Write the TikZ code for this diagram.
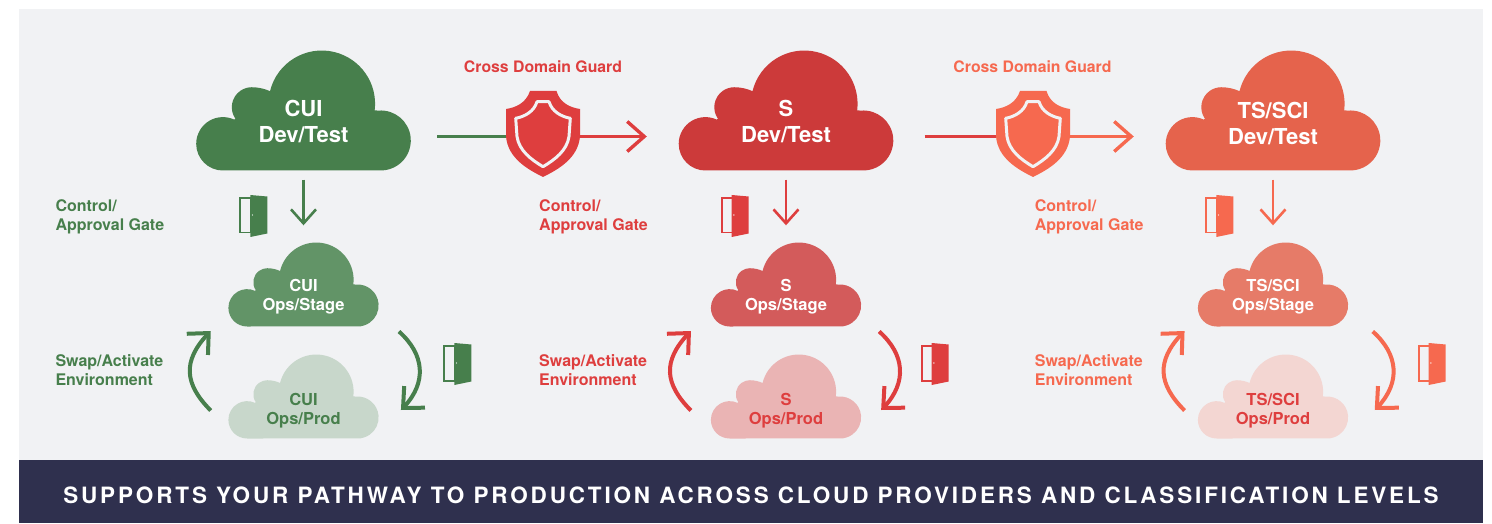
\documentclass[tikz,border=0pt]{standalone}
\usepackage{fontspec}
\setmainfont{TeX Gyre Heros}
\newfontfamily\bannerfont[LetterSpace=12.6]{TeX Gyre Heros}
\usetikzlibrary {arrows.meta}
\usetikzlibrary {bending}

\definecolor{panelbg}{HTML}{F1F2F4}
\definecolor{bannerbg}{HTML}{2F304E}
\definecolor{cuimain}{HTML}{477F4C}
\definecolor{cuidevc}{HTML}{477F4C}
\definecolor{cuistagec}{HTML}{629467}
\definecolor{cuiprodc}{HTML}{C8D7CB}
\definecolor{cuiprodtext}{HTML}{477F4C}
\definecolor{smain}{HTML}{DE3E3E}
\definecolor{sdevc}{HTML}{CC3A3A}
\definecolor{sstagec}{HTML}{D35B5B}
\definecolor{sprodc}{HTML}{EAB4B4}
\definecolor{sprodtext}{HTML}{DE3E3E}
\definecolor{tsmain}{HTML}{F6694F}
\definecolor{tsdevc}{HTML}{E5634C}
\definecolor{tsstagec}{HTML}{E67B68}
\definecolor{tsprodc}{HTML}{F3D6D2}
\definecolor{tsprodtext}{HTML}{DE3E3E}

\tikzset{
    bigbox/.style={minimum width=215pt, minimum height=120pt, inner sep=0},
    smallbox/.style={minimum width=150.5pt, minimum height=84pt, inner sep=0},
    bigtext/.style={align=center, inner sep=0, font=\fontsize{22}{26}\selectfont\bfseries},
    smalltext/.style={align=center, inner sep=0, font=\fontsize{16.5}{19}\selectfont\bfseries},
    sidelabel/.style={anchor=west, align=left, inner sep=0, font=\fontsize{16}{19}\selectfont\bfseries},
    guardlabel/.style={inner sep=0, font=\fontsize{15.8}{19}\selectfont\bfseries},
    downarrow/.style={line width=2.6pt, shorten <=9pt, shorten >=17pt, -{Straight Barb[length=14pt, width=25pt]}},
    guardline/.style={line width=3.4pt},
    guardarrow/.style={line width=3.4pt, -{Straight Barb[length=17pt, width=30pt]}},
    swaparrow/.style={line width=4pt, -{Straight Barb[length=16pt, width=30pt, flex=0]}},
    pics/cloudshape/.style={code={
        \fill[#1] (-80.6,-60) arc[start angle=270, end angle=65, radius=26.7]
            -- (-68.1,-8.2) arc[start angle=215, end angle=90, radius=20]
            .. controls (-45,23.3) and (-38,21.5) .. (-33.5,19.3)
            arc[start angle=166.3, end angle=-7, radius=53.3]
            -- (74.7,-0.1) arc[start angle=95, end angle=-90, radius=30] -- cycle;
    }},
    pics/doorgate/.style={code={
        \draw[#1, line width=1.8pt] (0.9,-0.9) rectangle (12,-35.6);
        \fill[#1] (11,2) -- (28,0.5) -- (28,-36.5) -- (11,-40) -- cycle;
        \fill[white] (13.2,-18) circle (0.7);
    }},
    pics/shieldicon/.style={code={
        \fill[#1] (-13,45.5) -- (13.5,45.5) .. controls (17,33.5) and (27,29) .. (37,27.5)
            -- (37,0) .. controls (35,-22) and (15,-33) .. (0,-40.5)
            .. controls (-15,-33) and (-35,-22) .. (-37,0) -- (-37,27.5)
            .. controls (-27,29) and (-17,33.5) .. (-13,45.5) -- cycle;
        \draw[panelbg, line width=3pt, line join=round] (-6,34.8) -- (6,34.8)
            .. controls (9,25) and (18,20) .. (27.3,18.2) -- (26,0)
            .. controls (24,-14) and (12,-23) .. (0,-30.2)
            .. controls (-12,-23) and (-24,-14) .. (-26,0) -- (-27.3,18.2)
            .. controls (-18,20) and (-9,25) .. (-6,34.8) -- cycle;
    }},
}

\begin{document}
\begin{tikzpicture}[x=1pt, y=1pt]

    \useasboundingbox (0,0) rectangle (1492,523);
    \fill[panelbg] (19,63) rectangle (1483,514);
    \fill[bannerbg] (19,0) rectangle (1483,63);
    \node[inner sep=0, text=white, font=\fontsize{22.5}{26}\bannerfont\bfseries] (bannertext) at (751,28)
        {SUPPORTS YOUR PATHWAY TO PRODUCTION ACROSS CLOUD PROVIDERS AND CLASSIFICATION LEVELS};

    % one column per classification level
    \foreach \cx/\nm/\lab/\devdrop/\sidex/\doorx/\rdoorx/\swapl/\swapr in {
        303.5/cui/CUI/11/55.3/239.3/443.3/17.3/20,
        786/s/S/11/539/720.7/920.7/19.6/17.7,
        1273/ts/TS\slash SCI/13.5/1034.7/1205.3/1417.7/13/24.3}
    {
        \node[bigbox] (\nm dev) at (\cx,412.5) {};
        \node[smallbox] (\nm stage) at (\cx,238.5) {};
        \node[smallbox] (\nm prod) at (\cx,126.5) {};
        \pic at (\nm dev) {cloudshape={\nm devc}};
        \pic[scale=0.7] at (\nm stage) {cloudshape={\nm stagec}};
        \pic[scale=0.7] at (\nm prod) {cloudshape={\nm prodc}};

        \node[bigtext, text=white] (\nm devtext) at ([yshift=-\devdrop]\nm dev.center) {\lab\\Dev/Test};
        \node[smalltext, text=white] (\nm stagetext) at ([yshift=-12]\nm stage.center) {\lab\\Ops/Stage};
        \node[smalltext, text=\nm prodtext] (\nm prodlabel) at ([yshift=-14.3]\nm prod.center) {\lab\\Ops/Prod};

        \node[sidelabel, text=\nm main] (\nm gate) at (\sidex,306.5) {Control/\\Approval Gate};
        \node[sidelabel, text=\nm main] (\nm swap) at (\sidex,153) {Swap/Activate\\Environment};

        \pic at (\doorx,326) {doorgate={\nm main}};
        \pic at (\rdoorx,178) {doorgate={\nm main}};

        \draw[downarrow, \nm main] (\nm dev.south) -- (\nm stage.north);
        \draw[swaparrow, \nm main] ([xshift=-\swapl,yshift=-14]\nm prod.west)
            .. controls +(-28,28) and +(-28,-28) .. ([xshift=-\swapl,yshift=-46.5]\nm stage.west);
        \draw[swaparrow, \nm main] ([xshift=\swapr,yshift=-47]\nm stage.east)
            .. controls +(27,-24) and +(26,25) .. ([xshift=\swapr+2,yshift=-13.5]\nm prod.east);
    }

    \coordinate (guarda) at (543,386.5);
    \coordinate (guardb) at (1033,386.5);

    \draw[guardline, cuimain, shorten <=26pt] (cuidev.east |- guarda) -- (guarda);
    \draw[guardarrow, smain, shorten >=31.5pt] (guarda) -- (sdev.west |- guarda);
    \draw[guardline, smain, shorten <=31pt] (sdev.east |- guardb) -- (guardb);
    \draw[guardarrow, tsmain, shorten >=31.5pt] (guardb) -- (tsdev.west |- guardb);

    \pic at (guarda) {shieldicon=smain};
    \pic at (guardb) {shieldicon=tsmain};

    \node[guardlabel, text=smain] (guardalabel) at (543,456.5) {Cross Domain Guard};
    \node[guardlabel, text=tsmain] (guardblabel) at (1032.5,456.5) {Cross Domain Guard};

\end{tikzpicture}
\end{document}
